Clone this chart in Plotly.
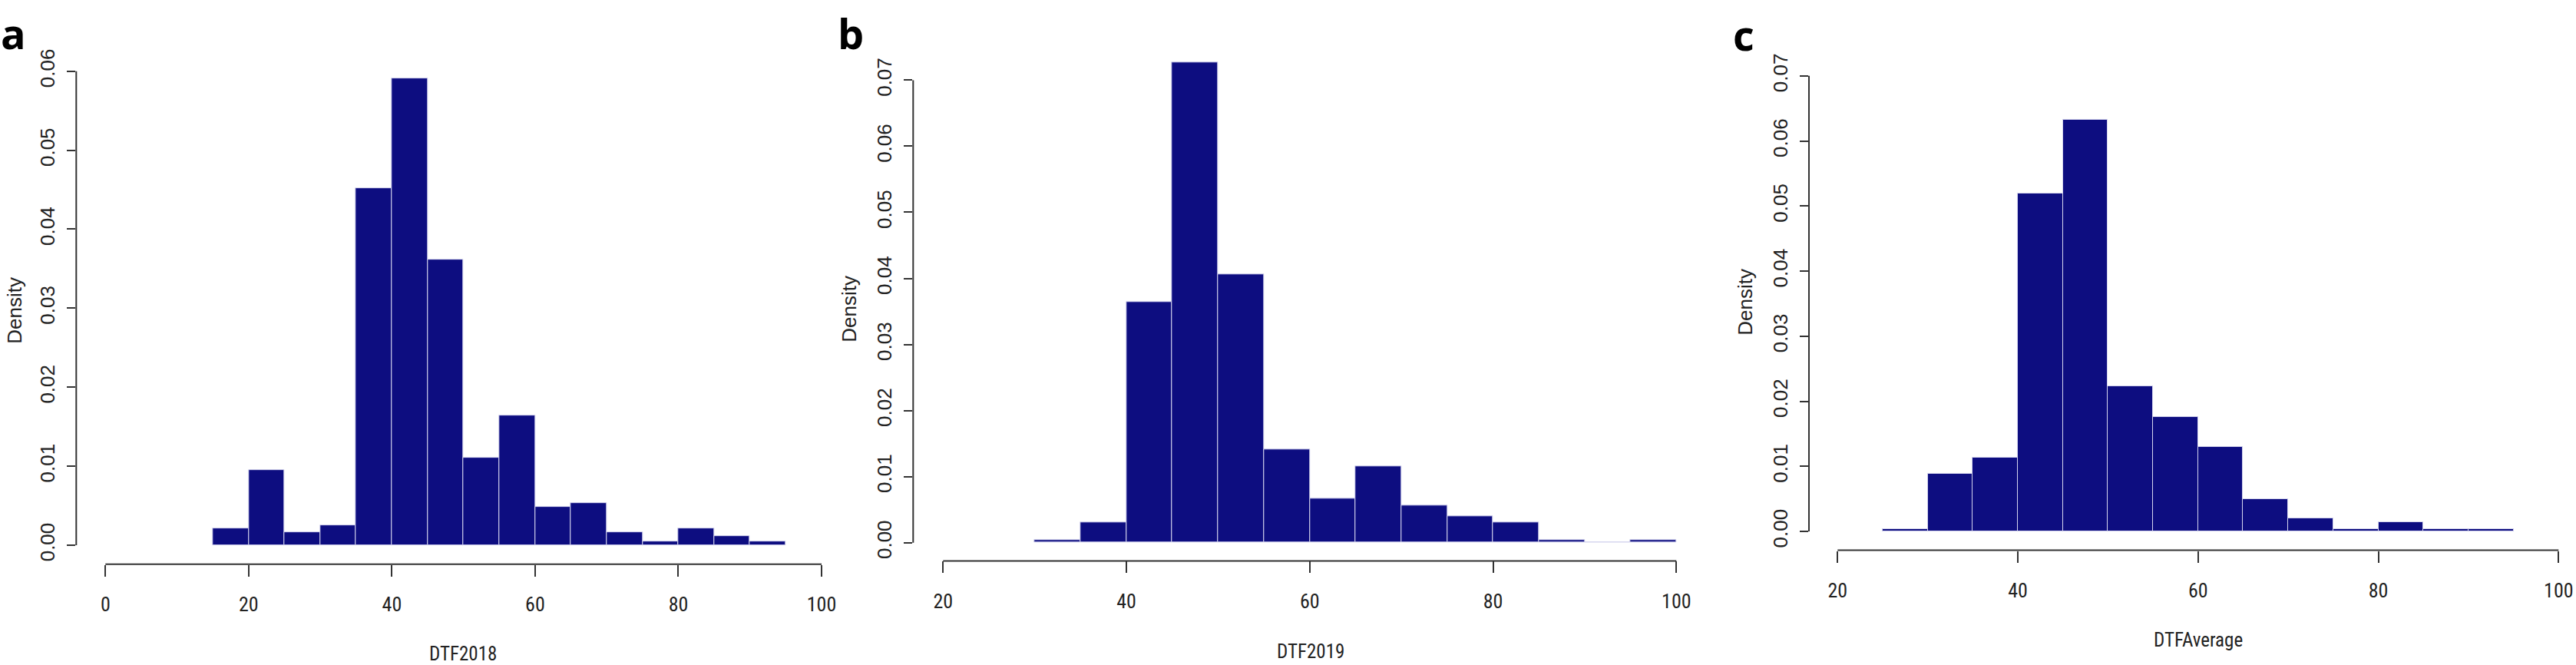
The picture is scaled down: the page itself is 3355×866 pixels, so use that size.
import plotly.graph_objects as go

W, H = 3355, 866

# ---------------- data (density histograms, bin width 5) ----------------
bin_width = 5
bins_2018 = [15, 20, 25, 30, 35, 40, 45, 50, 55, 60, 65, 70, 75, 80, 85, 90]
dens_2018 = [0.0021, 0.0095, 0.0016, 0.0025, 0.0452, 0.0591, 0.0361, 0.0111,
             0.0164, 0.0048, 0.0053, 0.0016, 0.0005, 0.0021, 0.0011, 0.0005]

bins_2019 = [30, 35, 40, 45, 50, 55, 60, 65, 70, 75, 80, 85, 90, 95]
dens_2019 = [0.0004, 0.0031, 0.0364, 0.0727, 0.0406, 0.0141, 0.0067, 0.0115,
             0.0056, 0.0040, 0.0031, 0.0004, 0.0, 0.0004]

bins_avg = [25, 30, 35, 40, 45, 50, 55, 60, 65, 70, 75, 80, 85, 90]
dens_avg = [0.0004, 0.0088, 0.0113, 0.0519, 0.0633, 0.0223, 0.0176, 0.0130,
            0.0050, 0.0020, 0.0004, 0.0014, 0.0004, 0.0004]

xticks_2018 = [0, 20, 40, 60, 80, 100]
xticks_2019 = [20, 40, 60, 80, 100]
xticks_avg = [20, 40, 60, 80, 100]
yticks_2018 = [0.00, 0.01, 0.02, 0.03, 0.04, 0.05, 0.06]
yticks_2019 = [0.00, 0.01, 0.02, 0.03, 0.04, 0.05, 0.06, 0.07]
yticks_avg = [0.00, 0.01, 0.02, 0.03, 0.04, 0.05, 0.06, 0.07]

titles = ["DTF2018", "DTF2019", "DTFAverage"]
letters = ["a", "b", "c"]

# ---------------- layout calibration (pixels in the 3355x866 canvas) ----------------
panels = [
    dict(bins=bins_2018, dens=dens_2018, xt=xticks_2018, yt=yticks_2018,
         x0_px=137.3, x1_px=1070.0, left_px=99.3, right_px=1107.3,
         y0_px=709.0, ytop_px=88.3, top_px=63.5, bottom_px=734.0,
         title_pos=(603, 851), dens_pos=(19, 402), letter_pos=(17, 38)),
    dict(bins=bins_2019, dens=dens_2019, xt=xticks_2019, yt=yticks_2019,
         x0_px=1228.3, x1_px=2183.3, left_px=1189.3, right_px=2221.5,
         y0_px=705.7, ytop_px=100.0, top_px=50.6, bottom_px=729.7,
         title_pos=(1707, 848), dens_pos=(1106, 400), letter_pos=(1108, 38)),
    dict(bins=bins_avg, dens=dens_avg, xt=xticks_avg, yt=yticks_avg,
         x0_px=2393.3, x1_px=3332.3, left_px=2356.0, right_px=3355.0,
         y0_px=691.0, ytop_px=94.3, top_px=70.4, bottom_px=715.7,
         title_pos=(2863, 833), dens_pos=(2273, 391), letter_pos=(2271, 40)),
]

BAR_COLOR = "#0d0d80"
AXIS_COLOR = "#333333"
TICK_FONT_Y = dict(family="Liberation Sans, Arial, sans-serif", size=26, color="#222222")
TICK_FONT_X = dict(family="Liberation Sans Narrow, Arial Narrow, Roboto Condensed, Liberation Sans, sans-serif",
                   size=26, color="#222222")

fig = go.Figure()
layout = dict(width=W, height=H, margin=dict(l=0, r=0, t=0, b=0),
              paper_bgcolor="white", plot_bgcolor="white", showlegend=False,
              bargap=0, shapes=[], annotations=[])

for i, p in enumerate(panels):
    k = "" if i == 0 else str(i + 1)
    xa, ya = "x" + k, "y" + k
    xt, yt = p["xt"], p["yt"]
    # x scale
    sx = (p["x1_px"] - p["x0_px"]) / (xt[-1] - xt[0])
    xr = [xt[0] - (p["x0_px"] - p["left_px"]) / sx, xt[0] + (p["right_px"] - p["x0_px"]) / sx]
    # y scale
    sy = (p["y0_px"] - p["ytop_px"]) / yt[-1]
    yr = [-(p["bottom_px"] - p["y0_px"]) / sy, (p["y0_px"] - p["top_px"]) / sy]

    centers = [b + bin_width / 2 for b in p["bins"]]
    fig.add_trace(go.Bar(x=centers, y=p["dens"], width=[bin_width] * len(centers),
                         marker=dict(color=BAR_COLOR, line=dict(color="#d4d4ee", width=1)),
                         xaxis=xa, yaxis=ya, hoverinfo="x+y"))

    layout["xaxis" + k] = dict(domain=[p["left_px"] / W, p["right_px"] / W], range=xr,
                               anchor=ya, showgrid=False, zeroline=False, showline=False,
                               tickmode="array", tickvals=xt, ticktext=[str(v) for v in xt],
                               ticks="outside", ticklen=15, tickwidth=2, tickcolor=AXIS_COLOR,
                               tickfont=TICK_FONT_X, ticklabelstandoff=14)
    layout["yaxis" + k] = dict(domain=[1 - p["bottom_px"] / H, 1 - p["top_px"] / H], range=yr,
                               anchor=xa, showgrid=False, zeroline=False, showline=False,
                               tickmode="array", tickvals=yt, ticktext=[f"{v:.2f}" for v in yt],
                               ticks="outside", ticklen=11, tickwidth=2, tickcolor=AXIS_COLOR,
                               tickfont=TICK_FONT_Y, tickangle=-90, ticklabelstandoff=6)
    # R-style axis lines spanning only the tick range
    layout["shapes"].append(dict(type="line", xref=xa, yref=ya + " domain",
                                 x0=xt[0], x1=xt[-1], y0=0, y1=0,
                                 line=dict(color=AXIS_COLOR, width=2)))
    layout["shapes"].append(dict(type="line", xref=xa + " domain", yref=ya,
                                 x0=0, x1=0, y0=yt[0], y1=yt[-1],
                                 line=dict(color=AXIS_COLOR, width=2)))
    # axis titles
    tx, ty = p["title_pos"]
    layout["annotations"].append(dict(text=titles[i], xref="paper", yref="paper",
                                      x=tx / W, y=1 - ty / H, showarrow=False,
                                      xanchor="center", yanchor="middle",
                                      font=dict(family=TICK_FONT_X["family"], size=25, color="#222222")))
    dx, dy = p["dens_pos"]
    layout["annotations"].append(dict(text="Density", xref="paper", yref="paper",
                                      x=dx / W, y=1 - dy / H, showarrow=False, textangle=-90,
                                      xanchor="center", yanchor="middle",
                                      font=dict(family="Liberation Sans, Arial, sans-serif", size=26,
                                                color="#222222")))
    lx, ly = p["letter_pos"]
    layout["annotations"].append(dict(text="<b>" + letters[i] + "</b>", xref="paper", yref="paper",
                                      x=lx / W, y=1 - ly / H, showarrow=False,
                                      xanchor="center", yanchor="middle",
                                      font=dict(family="Open Sans, Noto Sans, sans-serif", size=54,
                                                color="black")))

fig.update_layout(**layout)
fig.write_html("out.html")
